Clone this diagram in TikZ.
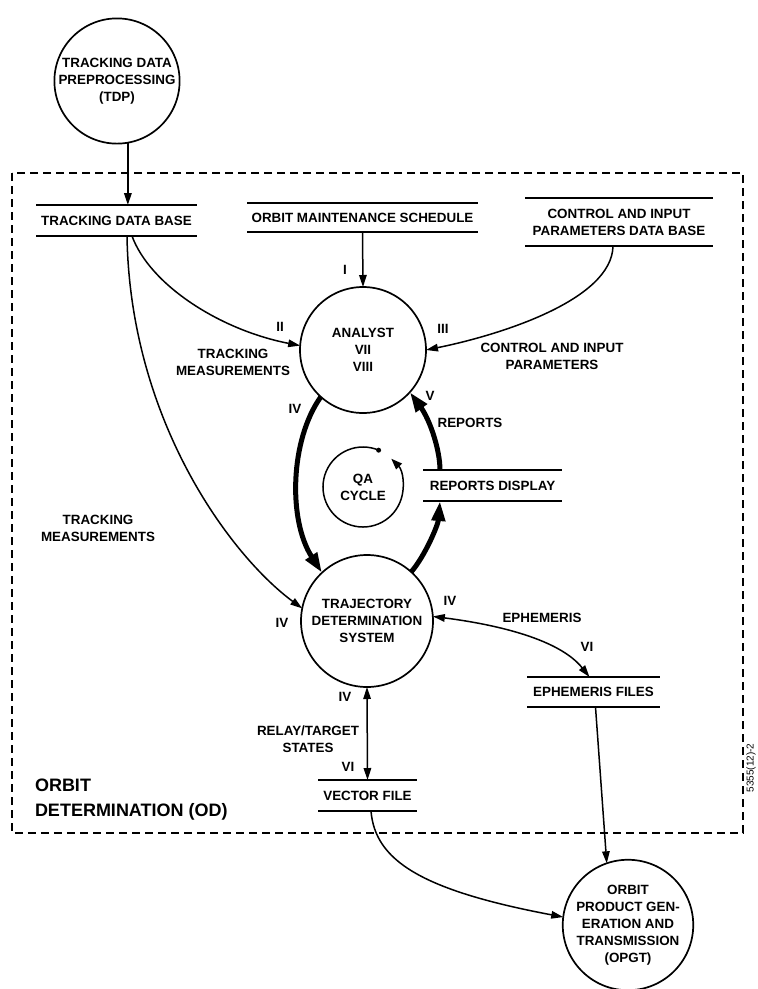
\documentclass[tikz,border=0pt]{standalone}
\usepackage{fontspec}
\setmainfont{Liberation Sans}
\usetikzlibrary{arrows.meta}

\begin{document}
\begin{tikzpicture}[x=1pt, y=-1pt, line width=1.5pt, >={Triangle[length=12pt,width=7.5pt]},
    every node/.style={font=\fontsize{13.4}{17}\selectfont\bfseries, align=center, inner sep=0pt, outer sep=0pt},
    bubble/.style={circle, draw, line width=1.7pt, minimum size=#1},
    store/.style={minimum width=#1, minimum height=31pt},
    heavy/.style={line width=5pt, -{Triangle[length=20pt,width=13pt]}}]
    \useasboundingbox (0,0) rectangle (758,989);
    % boundary of OD
    \draw[dash pattern=on 8pt off 5pt, line width=1.6pt] (12,173) rectangle (743,833);
    \node[anchor=west, align=left, font=\fontsize{18}{25}\selectfont\bfseries] (od) at (35,800) {ORBIT\\DETERMINATION (OD)};
    % bubbles
    \node[bubble=122pt] (tdp) at (117,81) {TRACKING DATA\\PREPROCESSING\\(TDP)};
    \node[bubble=126pt] (analyst) at (363,350) {ANALYST\\VII\\VIII};
    \node[bubble=132pt] (tds) at (367,621) {TRAJECTORY\\DETERMINATION\\SYSTEM};
    \node[bubble=128pt] (opgt) at (628,925) {ORBIT\\PRODUCT GEN-\\ERATION AND\\TRANSMISSION\\(OPGT)};
    \node[circle, minimum size=80pt] (qa) at (363,487) {QA\\CYCLE};
    % stores
    \node[store=161pt] (tdb) at (116.5,220.5) {TRACKING DATA BASE};
    \node[store=231pt, minimum height=29pt] (oms) at (362.5,217.5) {ORBIT MAINTENANCE SCHEDULE};
    \node[store=188pt, minimum height=48pt] (cip) at (619,222) {CONTROL AND INPUT\\PARAMETERS DATA BASE};
    \node[store=139pt] (rd) at (492.5,485.5) {REPORTS DISPLAY};
    \node[store=133pt, minimum height=30pt] (ef) at (593.5,692) {EPHEMERIS FILES};
    \node[store=99pt] (vf) at (367.5,795.5) {VECTOR FILE};
    \foreach \s in {tdb,oms,cip,rd,ef,vf}
        \draw[line width=2pt] (\s.north west) -- (\s.north east) (\s.south west) -- (\s.south east);
    % QA cycle
    \draw[-{Triangle[length=11pt,width=8pt]}] (qa.67) arc[start angle=-67, end angle=-405, radius=40];
    \fill (qa.67) circle[radius=2.5];
    % flows
    \draw[->] (tdp.-80) -- (tdp.-80 |- tdb.north);
    \draw[->] (oms.south) -- (analyst.north);
    \draw[->] ([xshift=15.5pt]tdb.south) .. controls (150,285) and (220,330) .. (analyst.176);
    \draw[->] ([xshift=-6pt]cip.south) .. controls (612,300) and (500,335) .. (analyst.0);
    \draw[->] ([xshift=10.5pt]tdb.south) .. controls (130,420) and (230,555) .. (tds.169);
    \draw[heavy] (analyst.228) .. controls (290,440) and (288,520) .. (tds.133);
    \draw[heavy] (tds.48) .. controls (425,556) and (438,525) .. ([xshift=17pt]rd.south west);
    \draw[heavy] ([xshift=17pt]rd.north west) .. controls (440,450) and (430,420) .. (analyst.-42);
    \draw[<->] (tds.4) .. controls (500,625) and (560,640) .. ([xshift=-4pt]ef.north);
    \draw[->] ([xshift=2pt]ef.south) -- (opgt.109);
    \draw[<->] (tds.south) -- (vf.north);
    \draw[->] ([xshift=3.5pt]vf.south) .. controls (375,860) and (420,890) .. (opgt.173);
    % labels
    \node (n1) at (345,270) {I};
    \node (n2) at (280,327) {II};
    \node (n3) at (443,329) {III};
    \node (tm1) at (233,362) {TRACKING\\MEASUREMENTS};
    \node (cp) at (552,356) {CONTROL AND INPUT\\PARAMETERS};
    \node (n4a) at (295,409) {IV};
    \node (n5) at (430,396) {V};
    \node (rep) at (470,423) {REPORTS};
    \node (tm2) at (98,528) {TRACKING\\MEASUREMENTS};
    \node (n4b) at (282,623) {IV};
    \node (n4c) at (450,601) {IV};
    \node (eph) at (542,618) {EPHEMERIS};
    \node (n6a) at (587,647) {VI};
    \node (n4d) at (345,697) {IV};
    \node (rts) at (308,739) {RELAY/TARGET\\STATES};
    \node (n6b) at (348,767) {VI};
    \node[rotate=90, font=\fontsize{10}{10}\selectfont] (id) at (751,768) {5355(12)-2};
\end{tikzpicture}
\end{document}
